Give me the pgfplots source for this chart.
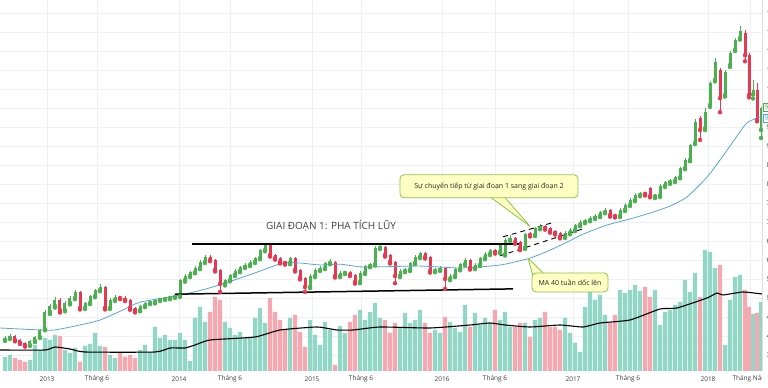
\documentclass[border=0pt]{standalone}
\usepackage{pgfplots}
\pgfplotsset{compat=1.18}
\usepackage{pgfplotstable}
\usepackage{fontspec}
\setmainfont{Open Sans}
\definecolor{upc}{RGB}{76,175,80}
\definecolor{dnc}{RGB}{229,57,83}
\definecolor{upv}{RGB}{146,214,198}
\definecolor{dnv}{RGB}{246,168,176}
\definecolor{mac}{RGB}{88,166,216}
\definecolor{gridc}{RGB}{238,240,244}
\definecolor{boxf}{RGB}{255,255,196}
\definecolor{boxd}{RGB}{139,195,74}
\definecolor{txt}{RGB}{60,60,60}

\pgfplotstableread{
x o h l c v
5 39.0 40.0 38.7 39.5 14
10 39.5 40.4 39.2 40.0 16
15 40.0 40.2 38.6 38.9 13
20 38.9 39.2 37.9 38.2 11
25 38.2 38.5 37.2 37.6 9
30 37.6 39.0 37.4 38.7 11
35 38.7 40.0 38.4 39.7 26
40 39.7 41.9 39.5 41.6 21
45 41.8 46.8 41.5 46.3 33
50 46.3 48.5 45.8 47.9 31
55 47.9 50.2 47.5 49.5 36
60 49.5 50.0 46.2 46.8 35
65 46.8 49.2 46.5 48.7 21
70 48.7 50.4 48.3 50.0 18
75 50.0 52.2 49.7 51.6 23
80 51.6 51.9 47.0 47.4 9
85 47.4 49.0 47.1 48.7 25
90 48.7 50.8 48.4 50.5 27
95 50.5 52.5 50.2 52.1 38
100 52.1 53.6 51.8 52.9 25
105 52.9 53.2 47.0 47.4 24
110 47.4 49.9 47.1 49.5 16
115 49.5 50.7 49.2 50.3 13
120 50.3 50.6 49.7 50.0 18
125 50.0 50.4 49.2 49.5 14
130 49.5 49.8 46.9 47.4 16
135 47.4 47.7 46.2 46.8 13
140 46.8 48.2 46.5 47.9 21
145 47.9 49.0 47.6 48.7 26
150 48.7 49.2 48.4 48.9 19
155 48.9 49.8 48.6 49.5 44
160 49.5 50.0 49.2 49.7 33
165 49.7 50.3 49.5 50.0 36
170 50.0 50.6 49.7 50.3 31
175 50.3 50.8 50.0 50.5 31
180 50.5 55.0 50.3 54.7 38
185 54.7 56.2 54.3 55.8 31
190 55.8 57.1 55.5 56.8 10
195 56.8 58.3 56.5 57.9 53
200 57.9 59.9 57.6 59.5 64
205 59.5 61.3 59.2 60.8 49
210 60.8 61.2 59.7 60.0 59
215 60.0 60.3 57.0 57.4 74
220 57.4 57.7 51.6 53.7 71
225 53.7 55.1 53.3 54.7 49
230 54.7 56.4 54.4 56.1 43
235 56.1 57.5 55.8 57.1 36
240 57.1 58.5 56.8 58.2 39
245 58.2 59.1 57.9 58.7 33
250 58.7 59.9 58.4 59.5 34
255 59.5 60.9 59.2 60.5 53
260 60.5 63.0 60.2 62.6 63
265 62.6 64.3 62.3 63.9 48
270 63.9 64.2 60.9 61.3 73
275 61.3 61.6 60.1 60.5 59
280 60.5 60.8 59.1 59.5 51
285 59.5 59.8 58.8 59.2 41
290 59.2 60.9 58.9 60.5 53
295 60.5 60.8 57.0 57.4 56
300 57.4 57.7 54.9 55.3 39
305 55.3 55.6 51.6 52.9 24
310 52.9 56.2 52.6 55.8 51
315 55.8 57.8 55.5 57.4 36
320 57.4 58.3 57.1 57.9 26
325 57.9 59.6 57.6 59.2 49
330 59.2 60.2 58.9 59.5 41
335 59.5 59.8 55.4 55.8 6
340 55.8 57.0 55.5 56.6 45
345 56.6 57.2 56.3 56.8 38
350 56.8 57.1 55.8 56.1 49
355 56.1 56.4 53.8 54.2 56
360 54.2 57.0 53.9 56.6 61
365 56.6 58.8 56.3 58.4 51
370 58.4 59.3 58.1 58.9 59
375 58.9 63.6 58.6 63.2 68
380 63.2 64.3 62.9 63.4 53
385 63.4 63.7 60.9 61.3 51
390 61.3 61.6 59.1 59.5 38
395 59.5 59.8 53.9 55.8 48
400 55.8 57.5 55.5 57.1 44
405 57.1 57.8 56.8 57.4 58
410 57.4 59.6 57.1 59.2 48
415 59.2 61.2 58.9 60.8 51
420 60.8 62.2 60.5 61.8 61
425 61.8 62.1 60.4 60.8 48
430 60.8 61.1 56.7 57.1 38
435 57.1 57.8 56.8 57.4 41
440 57.4 58.3 57.1 57.9 38
445 57.9 58.2 52.4 55.0 54
450 55.0 56.2 54.7 55.8 49
455 55.8 58.0 55.5 57.6 43
460 57.6 59.3 57.3 58.9 39
465 58.9 60.4 58.6 60.0 66
470 60.0 60.3 57.5 57.9 44
475 57.9 59.1 57.6 58.7 58
480 58.7 60.9 58.4 60.5 46
485 60.5 62.0 60.2 61.6 53
490 61.6 63.0 61.3 62.6 48
495 62.6 62.9 61.7 62.1 61
500 62.1 64.3 61.8 63.9 51
505 61.5 65.7 61.2 65.3 59
510 65.3 66.6 65.0 65.8 44
515 65.8 66.1 64.3 64.7 44
520 64.7 65.0 62.6 63.2 48
525 63.2 67.2 62.9 66.8 48
530 66.8 67.3 66.2 66.6 34
535 66.6 68.8 66.3 68.4 51
540 68.4 69.4 68.1 68.9 53
545 68.9 69.2 68.0 68.4 59
550 68.4 68.7 67.2 67.6 44
555 67.6 67.9 66.7 67.1 44
560 67.1 67.4 65.7 66.1 41
565 66.1 67.5 65.8 67.1 53
570 67.1 68.3 66.8 67.9 38
575 67.9 69.6 67.6 69.2 28
580 69.2 70.4 68.9 70.0 19
585 70.0 70.9 69.7 70.5 64
590 70.5 71.5 70.2 71.1 81
595 71.1 72.0 70.8 71.6 71
600 71.6 73.0 71.3 72.6 76
605 72.6 73.6 72.3 73.2 56
610 73.2 73.5 71.4 71.8 48
615 71.8 72.1 71.2 71.6 56
620 71.6 73.6 71.3 73.2 81
625 73.2 74.9 72.9 74.5 78
630 74.5 76.2 74.2 75.8 81
635 75.8 77.5 75.5 77.1 86
640 77.1 78.0 76.8 77.6 80
645 77.6 77.9 77.0 77.4 84
650 78.9 79.2 76.5 76.8 74
655 76.8 77.3 76.3 76.9 81
660 76.9 79.9 76.6 79.5 46
665 79.5 80.9 79.2 80.5 59
670 80.5 81.2 80.0 80.8 61
675 80.8 82.2 80.5 81.8 66
680 81.8 84.6 81.5 84.2 69
685 84.2 86.8 83.9 86.3 91
690 86.3 90.6 86.0 90.3 79
695 90.8 97.0 90.5 96.3 98
700 97.4 97.8 91.6 94.2 74
705 94.7 100.0 94.2 99.0 121
710 100.8 107.0 100.3 106.6 119
715 107.4 113.2 107.0 112.1 103
720 110.0 110.4 98.9 102.6 106
725 103.4 110.0 103.0 109.5 26
730 111.3 115.0 110.8 114.5 71
735 115.3 118.4 115.0 117.9 94
740 118.4 121.6 118.0 120.3 96
745 119.8 120.5 112.3 113.9 81
749 113.9 114.5 102.8 103.4 64
753 103.6 107.4 102.5 104.7 57
757 104.7 106.5 96.5 96.8 58
761 94.2 100.3 92.1 100.0 69
}\candles

\pgfplotsset{myax/.style={scale only axis, width=762pt, height=371pt,
  at={(0pt,17pt)}, anchor=south west, xmin=0, xmax=762}}

\begin{document}
\begin{tikzpicture}[x=1pt,y=1pt]
\useasboundingbox (0,0) rectangle (768,388);
% background grid and tick labels
\begin{axis}[myax, ymin=30.79, ymax=128.42,
  axis line style={draw=none}, major tick length=0pt,
  xmajorgrids, ymajorgrids, grid style={gridc, line width=0.6pt},
  xtick={47,97,179,230,312,361,442,495,573,628,708,750},
  xticklabels={2013,Tháng 6,2014,Tháng 6,2015,Tháng 6,2016,Tháng 6,2017,Tháng 6,2018,Tháng Năm},
  xticklabel style={anchor=center, yshift=-8pt, font=\fontsize{6.5}{8}\selectfont, text=txt},
  ytick={35,40,...,125}, yticklabel pos=right,
  yticklabel style={anchor=west, font=\fontsize{6.5}{8}\selectfont, text=txt, xshift=1pt},
  /pgf/number format/.cd, fixed, fixed zerofill, precision=2, assume math mode=true]
\addplot[draw=none] coordinates {(0,50)};
\end{axis}
% volume
\begin{axis}[myax, ymin=0, ymax=371, hide axis]
\addplot[ybar, bar width=4.2pt, bar shift=0pt, fill=upv, draw=none,
  restrict expr to domain={\thisrow{c}-\thisrow{o}}{0:1000}] table[x=x,y=v] {\candles};
\addplot[ybar, bar width=4.2pt, bar shift=0pt, fill=dnv, draw=none,
  restrict expr to domain={\thisrow{c}-\thisrow{o}}{-1000:-0.001}] table[x=x,y=v] {\candles};
\addplot[black, line width=1.1pt, smooth, tension=0.3] coordinates {
(0,21) (45,21) (55,24) (70,22) (85,19) (155,19) (170,23) (185,23) (195,26) (210,31)
(255,34) (280,41) (317,44) (337,41) (353,41) (380,44) (430,43) (470,46) (490,48)
(505,46) (530,44) (560,46) (583,44) (600,48) (630,51) (660,62) (677,63) (707,73)
(717,78) (723,76) (743,79) (762,77)};
\node[draw=black, fill=white, anchor=west, inner sep=1.5pt, font=\fontsize{6.5}{8}\selectfont] at (axis cs:763,77) {1.2M};
\node[anchor=west, inner sep=1.5pt, text=upc!70!mac, font=\fontsize{6.5}{8}\selectfont] at (axis cs:763,67) {987K};
\end{axis}
% price
\begin{axis}[myax, ymin=30.79, ymax=128.42, hide axis, clip=false]
% wicks
\addplot[upc, only marks, mark=none,
  restrict expr to domain={\thisrow{c}-\thisrow{o}}{0:1000},
  error bars/.cd, y dir=plus, y explicit, error mark=none,
  error bar style={line width=0.7pt}]
  table[x=x, y=l, y error expr=\thisrow{h}-\thisrow{l}] {\candles};
\addplot[dnc, only marks, mark=none,
  restrict expr to domain={\thisrow{c}-\thisrow{o}}{-1000:-0.001},
  error bars/.cd, y dir=plus, y explicit, error mark=none,
  error bar style={line width=0.7pt}]
  table[x=x, y=l, y error expr=\thisrow{h}-\thisrow{l}] {\candles};
% bodies
\addplot[upc, only marks, mark=none,
  restrict expr to domain={\thisrow{c}-\thisrow{o}}{0:1000},
  error bars/.cd, y dir=plus, y explicit, error mark=none,
  error bar style={line width=3.0pt}]
  table[x=x, y expr={min(\thisrow{o},\thisrow{c})}, y error expr={max(abs(\thisrow{c}-\thisrow{o}),0.3)}] {\candles};
\addplot[dnc, only marks, mark=none,
  restrict expr to domain={\thisrow{c}-\thisrow{o}}{-1000:-0.001},
  error bars/.cd, y dir=plus, y explicit, error mark=none,
  error bar style={line width=3.0pt}]
  table[x=x, y expr={min(\thisrow{o},\thisrow{c})}, y error expr={max(abs(\thisrow{c}-\thisrow{o}),0.3)}] {\candles};
% MA 40
\addplot[mac, line width=0.8pt, smooth, tension=0.4] coordinates {
(0,42.1) (40,41.6) (55,41.6) (80,42.9) (100,44.2) (125,47.1) (140,48.9) (175,50.5)
(202,52.1) (225,53.9) (255,56.6) (283,59.2) (300,59.2) (320,58.7) (340,58.9)
(360,58.2) (380,58.2) (420,58.4) (460,57.9) (490,58.4) (505,58.9) (530,60.5)
(550,62.6) (567,64.7) (583,66.8) (607,69.2) (630,70.8) (653,72.6) (670,74.2)
(687,76.6) (707,81.8) (720,86.3) (733,91.1) (747,96.1) (762,97.8)};
% trend lines
\addplot[black, line width=1.5pt] coordinates {(192,64.2) (519,64.2)};
\addplot[black, line width=1.5pt] coordinates {(175,51.0) (513,52.4)};
\addplot[black, line width=0.9pt, dash pattern=on 5pt off 4pt] coordinates {(503,66.1) (555,70.0)};
\addplot[black, line width=0.9pt, dash pattern=on 5pt off 4pt] coordinates {(500,61.1) (583,68.2)};
% title text
\node[font=\fontsize{10}{12}\selectfont, text=txt] at (axis cs:331,68.9) {GIAI ĐOẠN 1: PHA TÍCH LŨY};
% callout 1
\filldraw[fill=boxf, draw=boxd, line width=0.8pt, line join=round] (axis cs:488,77.0) -- (axis cs:530,68.9) -- (axis cs:503,77.0) -- cycle;
\node[draw=boxd, fill=boxf, rounded corners=4pt, line width=0.8pt, minimum width=178pt, minimum height=23pt, inner sep=2pt, font=\fontsize{7}{8}\selectfont, text=black!85] at (axis cs:489,79.4) {Sự chuyển tiếp từ giai đoạn 1 sang giai đoạn 2};
% callout 2
\filldraw[fill=boxf, draw=boxd, line width=0.8pt, line join=round] (axis cs:533,55.8) -- (axis cs:528,60.5) -- (axis cs:546,55.8) -- cycle;
\node[draw=boxd, fill=boxf, rounded corners=4pt, line width=0.8pt, minimum width=76pt, minimum height=19pt, inner sep=2pt, font=\fontsize{7}{8}\selectfont, text=black!85] at (axis cs:570,54.1) {MA 40 tuần dốc lên};
% right scale
\draw[gray!25, line width=0.6pt] (axis cs:762,30.79) -- (axis cs:762,128.42);
\node[draw=upc, fill=white, anchor=west, inner sep=1.5pt, text=upc, font=\fontsize{6.5}{8}\selectfont] at (axis cs:763,100.3) {99.50};
\node[draw=mac, fill=white, anchor=west, inner sep=1.5pt, text=mac, font=\fontsize{6.5}{8}\selectfont] at (axis cs:763,97.4) {97.80};
\end{axis}
\fill[white] (762,0) rectangle (768,17);
\end{tikzpicture}
\end{document}
